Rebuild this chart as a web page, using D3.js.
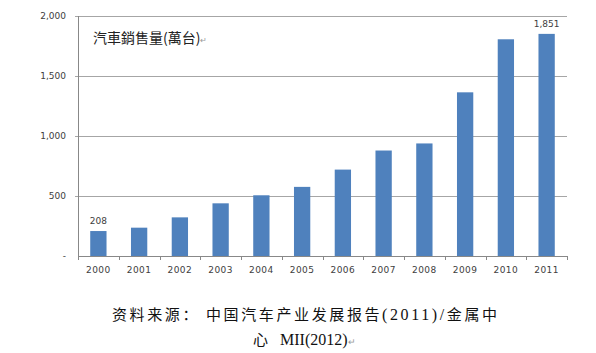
<!DOCTYPE html>
<html>
<head>
<meta charset="utf-8">
<script src="https://cdn.jsdelivr.net/npm/d3@7"></script>
<style>
  body { margin: 0; background: #fff; }
  svg { display: block; }
</style>
</head>
<body>
<div id="chart"></div>
<script>
const years = ['2000', '2001', '2002', '2003', '2004', '2005', '2006', '2007', '2008', '2009', '2010', '2011']
const sales = [208, 236, 322, 439, 506, 576, 720, 879, 938, 1364, 1806, 1851]
const yTicks = [0, 500, 1000, 1500, 2000]
const labelled = ['2000', '2011']

const width = 596, height = 353
const margin = {top: 16, right: 29, bottom: 97, left: 78}
const innerW = width - margin.left - margin.right,
  innerH = height - margin.top - margin.bottom

const svg = d3.select('#chart').append('svg')
  .attr('width', width)
  .attr('height', height)

const g = svg.append('g')
  .attr('transform', `translate(${margin.left}, ${margin.top})`)

const x = d3.scaleBand()
  .domain(years)
  .range([0, innerW])
  .paddingInner(0.6)
  .paddingOuter(0.3)
const y = d3.scaleLinear()
  .domain([0, 2000])
  .range([innerH, 0])

// gridlines
g.append('g').selectAll('line').data(yTicks.filter(d => d > 0))
  .enter().append('line')
  .attr('x1', -3)
  .attr('x2', innerW)
  .attr('y1', d => Math.round(y(d)) + 0.5)
  .attr('y2', d => Math.round(y(d)) + 0.5)
  .attr('stroke', '#a6a6a6')
  .attr('stroke-width', 1)

// y labels
g.append('g').selectAll('text').data(yTicks)
  .enter().append('text')
  .text(d => d === 0 ? '-' : d3.format(',')(d))
  .attr('x', -12)
  .attr('y', d => y(d) + 3)
  .attr('text-anchor', 'end')
  .attr('fill', '#404040')
  .style('font-family', '"DejaVu Sans", sans-serif')
  .style('font-size', '9px')

// bars
g.append('g').selectAll('rect').data(years)
  .enter().append('rect')
  .attr('x', d => x(d))
  .attr('y', (d, i) => y(sales[i]))
  .attr('width', x.bandwidth())
  .attr('height', (d, i) => innerH - y(sales[i]))
  .attr('fill', '#4f81bd')

// data labels
g.append('g').selectAll('text').data(years.filter(d => labelled.includes(d)))
  .enter().append('text')
  .text(d => d3.format(',')(sales[years.indexOf(d)]))
  .attr('x', d => x(d) + x.bandwidth() / 2)
  .attr('y', d => y(sales[years.indexOf(d)]) - 7)
  .attr('text-anchor', 'middle')
  .attr('fill', '#404040')
  .style('font-family', '"DejaVu Sans", sans-serif')
  .style('font-size', '9px')

// x axis
const xAxis = g.append('g')
  .attr('transform', `translate(0, ${innerH})`)
xAxis.append('line')
  .attr('x1', 0).attr('x2', innerW)
  .attr('y1', 0.5).attr('y2', 0.5)
  .attr('stroke', '#888')
const step = innerW / years.length
xAxis.selectAll('.tick').data(d3.range(years.length + 1))
  .enter().append('line')
  .attr('x1', d => Math.round(d * step) + 0.5)
  .attr('x2', d => Math.round(d * step) + 0.5)
  .attr('y1', 0).attr('y2', 4)
  .attr('stroke', '#888')
xAxis.selectAll('text').data(years)
  .enter().append('text')
  .text(d => d)
  .attr('x', d => x(d) + x.bandwidth() / 2)
  .attr('y', 17)
  .attr('text-anchor', 'middle')
  .attr('fill', '#404040')
  .style('font-family', '"DejaVu Sans", sans-serif')
  .style('font-size', '9px')
  .style('letter-spacing', '0.4px')

// y axis line
g.append('line')
  .attr('x1', 0.5).attr('x2', 0.5)
  .attr('y1', 0).attr('y2', innerH)
  .attr('stroke', '#888')

// title inside plot
const title = svg.append('text')
  .attr('x', 93)
  .attr('y', 43)
  .attr('fill', '#222')
  .style('font-family', '"Noto Sans CJK TC", sans-serif')
  .style('font-size', '14px')
title.append('tspan').text('汽車銷售量(萬台)')
title.append('tspan').text('↵').attr('fill', '#999').style('font-size', '8px')

// source caption
const cap = svg.append('g')
  .style('font-family', '"Noto Sans CJK SC", sans-serif')
  .style('font-size', '15px')
  .attr('fill', '#111')
const line1 = cap.append('text')
  .attr('x', 112).attr('y', 320)
  .attr('textLength', 385)
  .attr('lengthAdjust', 'spacing')
line1.append('tspan').text('资料来源： 中国汽车产业发展报告')
line1.append('tspan').text('(2011)/')
  .style('font-family', '"Liberation Serif", serif')
  .style('font-size', '16px')
line1.append('tspan').text('金属中')
const line2 = cap.append('text')
  .attr('x', 253).attr('y', 345)
line2.append('tspan').text('心')
line2.append('tspan').text('MII(2012)')
  .attr('dx', 12)
  .style('font-family', '"Liberation Serif", serif')
  .style('font-size', '16px')
line2.append('tspan').text('↵').attr('fill', '#999').style('font-size', '9px')
</script>
</body>
</html>
